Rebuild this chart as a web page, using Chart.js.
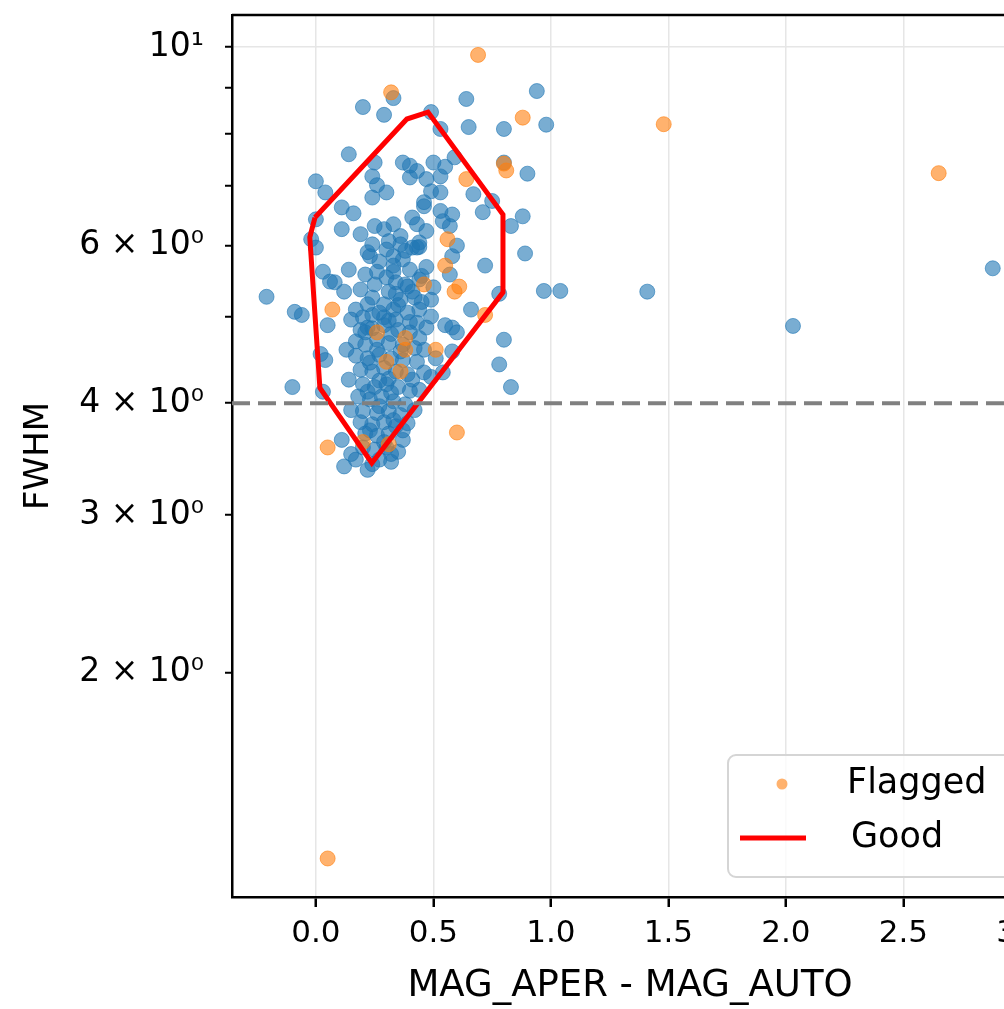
<!DOCTYPE html>
<html>
<head>
<meta charset="utf-8">
<script src="https://cdn.jsdelivr.net/npm/chart.js@4.4.1/dist/chart.umd.min.js"></script>
<style>
  html, body { margin: 0; padding: 0; background: #fff; overflow: hidden; width: 1004px; height: 1009px; }
  #wrap { position: relative; width: 1045px; height: 1009px; }
</style>
</head>
<body>
<div id="wrap"><canvas id="chart"></canvas></div>
<script>
// blue points (no legend entry)
const keptX = [0.20,0.29,0.33,0.49,0.64,0.94,0.98,0.65,0.80,0.53,0.14,0.25,0.37,0.40,0.43,0.50,0.55,0.59,0.80,0.90,
  0.24,0.26,0.30,0.24,0.40,0.47,0.53,0.49,0.53,0.00,0.04,0.11,0.16,0.00,0.11,0.19,-0.02,0.00,0.25,0.29,
  0.24,0.22,0.23,0.33,0.31,0.36,0.41,0.43,0.33,0.37,0.46,0.41,0.43,0.46,0.53,0.58,0.54,0.47,0.57,0.67,
  0.71,0.75,0.88,0.83,0.60,0.44,0.58,0.89,0.47,0.72,0.57,0.50,0.78,0.97,1.04,0.66,0.44,0.49,0.55,0.03,
  0.14,0.06,0.08,0.12,-0.21,-0.09,-0.06,0.17,0.22,0.24,0.24,0.30,0.26,0.33,0.34,0.31,0.36,0.33,0.39,0.43,
  0.45,0.41,0.05,0.22,0.02,0.04,-0.10,0.03,0.11,0.15,0.12,0.24,0.46,0.41,0.80,0.78,0.83,0.47,0.58,0.60,
  0.58,0.54,0.49,0.51,1.41,2.03,2.88,
  0.19,0.24,0.29,0.35,0.40,0.44,0.17,0.21,0.26,0.31,0.37,0.42,0.46,0.17,0.22,0.27,0.32,0.37,0.43,0.19,
  0.24,0.29,0.34,0.39,0.27,0.20,0.25,0.30,0.35,0.40,0.18,0.23,0.28,0.33,0.38,0.20,0.26,0.31,0.36,0.19,
  0.24,0.29,0.34,0.39,0.21,0.26,0.31,0.37,0.20,0.25,0.30,0.35,0.27,0.32,0.22,
  0.27,0.30,0.40,0.44,0.38,0.29,0.34,0.19,0.21,0.25,0.42,0.49,0.29,0.40,0.15,0.20,
  0.21,0.32,0.26,0.36,0.23,0.31,0.22,0.32,0.27,0.33,0.23,0.29,0.32,0.17,0.37,0.42,0.15,0.14,0.44,0.13,
  0.35,0.39,0.45,0.33,0.38,0.36,0.44,0.27,0.31,0.34];
const keptY = [8.57,8.40,8.77,8.46,8.75,8.93,8.19,8.14,8.10,8.10,7.59,7.43,7.43,7.37,7.27,7.43,7.35,7.53,7.43,7.22,
  7.17,7.01,6.88,6.79,7.15,7.12,7.17,6.90,6.88,7.08,6.88,6.62,6.52,6.42,6.26,6.18,6.10,5.97,6.31,6.26,
  6.02,5.90,5.84,6.34,6.07,6.02,5.97,5.97,5.84,5.79,6.64,6.45,6.34,6.71,6.56,6.50,6.39,6.23,6.31,6.85,
  6.54,6.73,6.47,6.31,6.00,5.98,5.84,5.88,5.68,5.70,5.57,5.39,5.30,5.34,5.34,5.09,5.09,5.00,4.89,5.61,
  5.64,5.47,5.46,5.33,5.26,5.06,5.02,5.09,5.16,5.25,5.02,5.53,5.61,5.61,5.46,5.33,5.22,5.09,5.05,4.92,
  5.19,5.33,4.89,4.86,4.54,4.47,4.17,4.12,3.64,3.51,3.40,3.42,4.33,4.25,4.71,4.42,4.17,4.86,4.86,4.80,
  4.57,4.33,4.28,4.49,5.33,4.88,5.66,
  4.83,4.85,4.89,4.83,4.80,4.73,4.69,4.65,4.71,4.67,4.65,4.61,4.59,4.52,4.49,4.53,4.49,4.47,4.45,4.36,
  4.34,4.38,4.34,4.31,4.24,4.20,4.17,4.20,4.17,4.13,4.07,4.04,4.07,4.02,3.99,3.92,3.90,3.92,3.88,3.81,
  3.79,3.81,3.77,3.80,3.70,3.68,3.70,3.64,3.57,3.55,3.57,3.53,3.46,3.44,3.37,
  5.76,5.94,5.64,5.50,5.43,5.16,4.96,5.36,5.57,5.43,5.25,5.22,4.99,4.93,4.96,4.99,
  4.80,4.78,4.59,4.57,4.44,4.26,4.12,4.11,3.97,3.83,3.73,3.62,3.51,3.46,3.73,3.93,3.93,4.25,4.14,4.59,
  5.15,5.40,5.55,5.70,5.92,6.15,6.05,5.05,4.95,5.30];

// orange points
const flaggedX = [0.69,0.32,0.88,1.48,0.64,0.80,0.81,0.56,0.55,0.46,0.61,0.59,0.72,0.07,0.26,0.38,0.38,0.30,0.36,0.51,
  0.05,0.20,0.31,0.60,2.65,0.05];
const flaggedY = [9.80,8.90,8.34,8.20,7.12,7.41,7.28,6.10,5.70,5.43,5.40,5.33,5.02,5.09,4.80,4.73,4.59,4.45,4.34,4.59,
  3.57,3.62,3.60,3.71,7.23,1.24];

// "Good" outline
const goodX = [-0.004,0.387,0.477,0.796,0.796,0.238,0.017,-0.026,-0.004];
const goodY = [6.45,8.31,8.46,6.50,5.32,3.43,4.16,6.13,6.45];

const thresholdY = 4;
const xMin = -0.357, xMax = 3.03;
const yMin = 1.123, yMax = 10.86;
const xTicks = [0, 0.5, 1.0, 1.5, 2.0, 2.5, 3.0];
const yTicks = [2, 3, 4, 5, 6, 7, 8, 9, 10];
const yTickLabels = { 10: '10¹', 6: '6 × 10⁰', 4: '4 × 10⁰', 3: '3 × 10⁰', 2: '2 × 10⁰' };

const FONT = 'DejaVu Sans';
const BLUE = 'rgba(31,119,180,0.6)';
const ORANGE = 'rgba(255,127,14,0.6)';
const GRID = '#e6e6e6';

const toPoints = (xs, ys) => xs.map((x, i) => ({ x: x, y: ys[i] }));

const framePlugin = {
  id: 'frame',
  afterDraw(chart) {
    const { ctx, chartArea: a } = chart;
    ctx.save();
    ctx.strokeStyle = '#000';
    ctx.lineWidth = 2.5;
    ctx.beginPath();
    ctx.moveTo(a.left, a.top);
    ctx.lineTo(a.right, a.top);
    ctx.lineTo(a.right, a.bottom);
    ctx.stroke();

    // legend box, bottom right inside the axes
    const w = 290, h = 122;
    const x0 = a.right - 10 - w, y0 = a.bottom - 20 - h;
    ctx.fillStyle = 'rgba(255,255,255,0.8)';
    ctx.strokeStyle = '#d5d5d5';
    ctx.lineWidth = 2;
    ctx.beginPath();
    ctx.roundRect(x0, y0, w, h, 8);
    ctx.fill();
    ctx.stroke();

    ctx.fillStyle = ORANGE;
    ctx.beginPath();
    ctx.arc(x0 + 54, y0 + 29, 5.5, 0, Math.PI * 2);
    ctx.fill();

    ctx.strokeStyle = 'red';
    ctx.lineWidth = 5;
    ctx.beginPath();
    ctx.moveTo(x0 + 12, y0 + 83);
    ctx.lineTo(x0 + 78, y0 + 83);
    ctx.stroke();

    ctx.fillStyle = '#000';
    ctx.font = '35px "' + FONT + '"';
    ctx.textBaseline = 'middle';
    ctx.fillText('Flagged', x0 + 119, y0 + 29);
    ctx.fillText('Good', x0 + 123, y0 + 83);
    ctx.restore();
  }
};

new Chart(document.getElementById('chart'), {
  type: 'scatter',
  data: {
    datasets: [
      {
        type: 'line',
        data: [{ x: xMin, y: thresholdY }, { x: xMax, y: thresholdY }],
        borderColor: '#808080',
        borderWidth: 4,
        borderDash: [18, 8],
        pointRadius: 0,
        showLine: true,
        order: 0
      },
      {
        type: 'line',
        label: 'Good',
        data: toPoints(goodX, goodY),
        borderColor: 'red',
        borderWidth: 5,
        pointRadius: 0,
        tension: 0,
        showLine: true,
        order: 1
      },
      {
        label: 'Flagged',
        data: toPoints(flaggedX, flaggedY),
        backgroundColor: ORANGE,
        borderColor: ORANGE,
        borderWidth: 1,
        pointRadius: 7.5,
        order: 2
      },
      {
        data: toPoints(keptX, keptY),
        backgroundColor: BLUE,
        borderColor: BLUE,
        borderWidth: 1,
        pointRadius: 7.5,
        order: 3
      }
    ]
  },
  options: {
    responsive: true,
    maintainAspectRatio: false,
    animation: false,
    events: [],
    layout: { padding: { top: 15, right: 17, left: 0, bottom: 0 } },
    plugins: { legend: { display: false }, tooltip: { enabled: false } },
    scales: {
      x: {
        type: 'linear',
        min: xMin,
        max: xMax,
        afterBuildTicks: (axis) => { axis.ticks = xTicks.map(v => ({ value: v })); },
        afterFit: (axis) => { axis.height = 112; axis.paddingLeft = 0; axis.paddingRight = 0; },
        ticks: {
          color: '#000',
          font: { family: FONT, size: 31 },
          padding: 8,
          maxRotation: 0,
          callback: (v) => v.toFixed(1)
        },
        grid: { color: GRID, lineWidth: 1.5, tickColor: '#000', tickLength: 10, tickWidth: 2.5 },
        border: { color: '#000', width: 2.5 },
        title: {
          display: true,
          text: 'MAG_APER - MAG_AUTO',
          color: '#000',
          font: { family: FONT, size: 37 },
          padding: { top: 0, bottom: 0 }
        }
      },
      y: {
        type: 'logarithmic',
        min: yMin,
        max: yMax,
        afterBuildTicks: (axis) => { axis.ticks = yTicks.map(v => ({ value: v })); },
        afterFit: (axis) => { axis.width = 232; axis.paddingTop = 0; axis.paddingBottom = 0; },
        ticks: {
          color: '#000',
          font: { family: FONT, size: 33 },
          padding: 21,
          autoSkip: false,
          callback: (v) => yTickLabels[v] || ''
        },
        grid: {
          color: (c) => (c.tick && c.tick.value === 10 ? GRID : 'rgba(0,0,0,0)'),
          lineWidth: 1.5,
          tickColor: '#000',
          tickLength: 7,
          tickWidth: 2
        },
        border: { color: '#000', width: 2.5 },
        title: {
          display: true,
          text: 'FWHM',
          color: '#000',
          font: { family: FONT, size: 34 },
          padding: { top: 19, bottom: 0 }
        }
      }
    }
  },
  plugins: [framePlugin]
});
</script>
</body>
</html>
